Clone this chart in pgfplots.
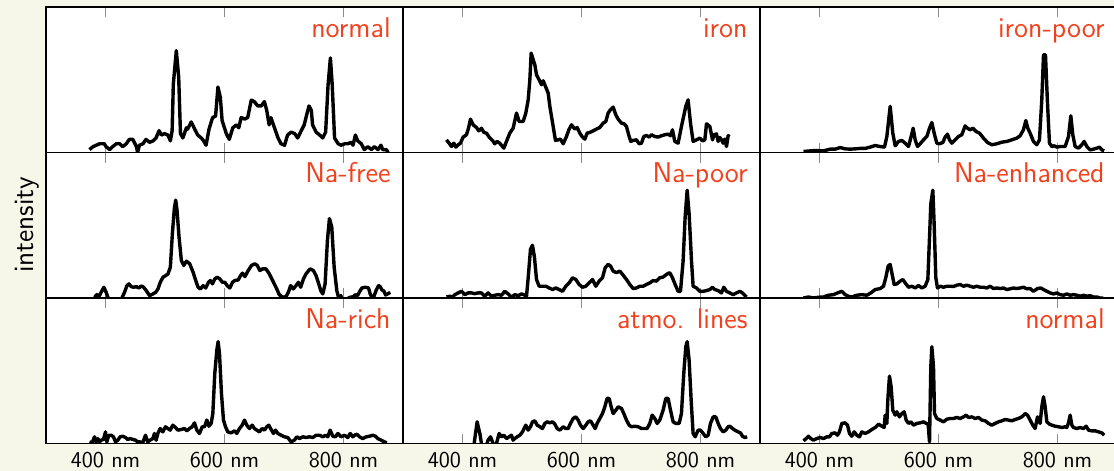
\documentclass[border=0pt]{standalone}
\usepackage{fontspec}
\usepackage{pgfplots}
\pgfplotsset{compat=1.18}
\renewcommand{\familydefault}{\sfdefault}
\definecolor{bgcol}{RGB}{247,247,233}
\definecolor{titlecol}{RGB}{240,66,30}
\pgfplotsset{
  panel/.style={
    scale only axis, width=178.5pt, height=72.75pt, anchor=north west,
    xmin=300, xmax=900, ymin=0, ymax=100,
    xtick={400,600,800}, xticklabels={}, ytick=\empty,
    tick align=inside, major tick length=5pt,
    tick style={black!45, line width=0.6pt},
    axis line style={black, line width=0.8pt},
    axis background/.style={fill=white},
    clip mode=individual,
  },
  bottompanel/.style={panel,
    xticklabels={400 nm,600 nm,800 nm},
    xticklabel style={font=\fontsize{11.3}{13}\selectfont\sffamily, inner sep=0pt, anchor=north, yshift=-4pt},
  },
  spec/.style={black, line width=1.7pt, line join=round, mark=none},
}
\newcommand{\ptitle}[1]{\node[anchor=base east, text=titlecol, font=\fontsize{14.3}{16}\selectfont\sffamily, inner sep=0pt] at (rel axis cs:1,1) [xshift=-6pt, yshift=-15pt] {#1};}
\begin{document}
\begin{tikzpicture}
\path[use as bounding box, fill=bgcol] (0,0) rectangle (557pt,-235.5pt);
% row 1
\begin{axis}[panel, at={(23pt,-3.5pt)}]
\addplot[spec] coordinates {(373,2)(379,4)(390,6)(398,6)(401,4)(407,2)(412,4)(418,6)(424,6)(429,4)(435,6)(440,9)(446,9)(452,4)(454,0)(457,5)(463,6)(468,9)(474,7)(480,8)(485,10)(490,15)(494,12)(499,13)(505,12)(509,8)(512,15)(514,47)(519,70)(523,52)(526,13)(530,10)(536,17)(538,16)(544,21)(550,16)(555,12)(561,10)(565,8)(569,5)(574,16)(580,24)(585,25)(589,45)(593,38)(596,22)(603,13)(608,9)(614,17)(620,19)(624,17)(628,24)(634,23)(639,24)(645,36)(650,35)(656,32)(662,32)(667,35)(671,29)(675,19)(678,24)(684,17)(690,10)(695,6)(701,5)(706,12)(712,14)(718,13)(723,10)(729,15)(734,19)(737,24)(742,32)(746,29)(748,19)(754,14)(760,12)(765,10)(770,14)(774,46)(778,65)(781,47)(785,10)(791,6)(796,5)(802,6)(807,6)(813,7)(816,5)(820,12)(824,8)(830,6)(835,2)(841,4)(847,2)(852,4)(858,2)(863,5)(866,2)(872,2)(875,0)};
\ptitle{normal}
\end{axis}
\begin{axis}[panel, at={(201.5pt,-3.5pt)}]
\addplot[spec] coordinates {(373.1,8.7)(377.6,6.4)(381.5,4.1)(385.4,6.4)(388.8,3.7)(392.7,5.3)(396.6,6.4)(401.1,10.6)(406.7,12.2)(410.1,16.7)(413.4,22.9)(417.9,19.0)(423.5,17.2)(427.4,14.9)(431.9,16.7)(435.9,13.8)(440.3,13.3)(444.8,10.6)(450.4,8.3)(454.3,6.0)(458.3,7.6)(462.7,6.4)(469.5,3.0)(473.9,7.6)(479.5,13.3)(485.1,16.7)(490.8,27.1)(495.2,21.3)(502.0,21.3)(506.4,27.1)(510.4,36.2)(513.2,50.0)(515.4,68.3)(518.8,63.8)(521.6,60.3)(524.4,53.4)(528.8,50.0)(532.8,46.6)(535.6,49.3)(539.5,45.4)(544.0,40.8)(546.8,31.7)(552.4,17.9)(556.3,8.3)(560.8,8.7)(564.7,9.2)(569.2,6.0)(574.8,11.0)(578.7,15.6)(583.2,19.0)(588.8,16.1)(592.7,17.2)(597.2,13.3)(601.7,10.6)(605.6,9.2)(609.5,13.3)(614.0,13.8)(619.6,14.9)(625.2,16.1)(630.8,17.2)(636.4,20.2)(640.9,21.3)(644.8,27.1)(648.7,29.4)(653.2,31.2)(657.7,25.9)(661.6,22.9)(667.2,20.2)(671.7,19.7)(675.6,17.9)(680.1,11.0)(682.9,7.6)(686.8,8.3)(692.4,8.7)(696.9,6.0)(700.8,6.4)(704.7,11.0)(709.2,11.7)(713.7,10.6)(717.6,12.2)(723.2,11.0)(728.8,10.6)(734.4,11.5)(740.0,12.2)(745.6,12.6)(749.6,11.5)(752.9,15.6)(756.8,7.6)(762.4,6.4)(768.0,17.9)(775.3,31.7)(779.2,36.2)(783.2,20.2)(787.6,7.6)(793.3,8.7)(798.9,9.9)(803.3,8.0)(807.3,8.7)(810.1,19.7)(815.7,17.9)(820.2,8.7)(822.9,12.2)(826.9,12.8)(829.7,7.6)(832.5,10.3)(835.3,8.7)(838.1,6.4)(840.9,9.2)(843.7,4.1)(846.5,11.5)(849.3,11.0)};
\ptitle{iron}
\end{axis}
\begin{axis}[panel, at={(380pt,-3.5pt)}]
\addplot[spec] coordinates {(373.1,0.7)(384.3,1.1)(395.5,1.4)(406.7,1.1)(417.9,2.3)(426.3,2.3)(434.7,3.4)(443.1,2.5)(451.5,2.3)(459.9,2.5)(468.3,2.8)(476.7,2.8)(485.1,3.7)(493.6,4.8)(502.0,4.1)(509.2,3.7)(513.2,11.0)(518.8,31.7)(523.2,13.3)(527.2,4.6)(532.8,7.6)(538.4,8.3)(544.0,6.4)(549.6,4.1)(554.1,11.0)(557.4,16.7)(560.8,8.7)(564.7,4.1)(569.2,6.0)(574.8,8.7)(580.4,11.0)(584.9,16.7)(588.8,20.6)(592.7,13.3)(597.2,6.4)(601.7,6.0)(607.3,6.9)(611.2,10.6)(615.1,12.6)(618.5,8.7)(622.4,6.4)(628.0,8.7)(633.6,11.0)(639.2,12.2)(644.8,18.3)(648.7,16.7)(653.2,15.6)(657.7,16.7)(663.3,14.4)(668.9,13.3)(675.6,9.9)(682.3,6.9)(689.6,5.3)(698.0,6.0)(706.4,7.1)(714.8,7.6)(723.2,8.7)(731.6,9.9)(737.2,11.5)(742.8,15.6)(746.8,22.0)(750.1,16.7)(754.0,13.3)(759.6,7.6)(765.2,5.3)(769.7,8.7)(773.6,36.2)(776.5,67.2)(779.8,67.2)(783.2,33.9)(786.5,6.4)(790.5,4.1)(794.4,4.6)(798.9,3.7)(804.5,4.1)(812.9,4.1)(818.5,11.0)(822.4,25.2)(825.7,12.2)(829.7,4.1)(835.3,3.0)(840.9,5.3)(844.8,7.6)(849.3,4.1)(854.9,1.8)(860.5,2.3)(866.1,3.0)(870.6,3.7)(874.5,1.8)(878.4,1.1)};
\ptitle{iron-poor}
\end{axis}
% row 2
\begin{axis}[panel, at={(23pt,-76.25pt)}]
\addplot[spec] coordinates {(381.5,0.5)(385.4,2.3)(388.8,0.9)(392.7,3.9)(397.2,7.4)(401.1,3.9)(404.5,0)(406.7,-5)(427.0,-5)(428.1,0.5)(432.0,3.9)(436.0,8.5)(439.3,9.7)(443.3,7.8)(447.2,7.4)(451.7,7.8)(456.2,6.9)(460.1,8.3)(464.0,7.4)(468.5,5.1)(474.2,1.6)(479.8,2.8)(484.3,3.9)(488.2,6.2)(492.1,10.8)(496.6,14.3)(501.1,15.4)(505.1,16.6)(509.0,21.2)(512.4,44.2)(515.7,61.5)(518.0,67.3)(520.2,60.4)(523.6,41.9)(527.5,25.8)(531.5,22.4)(536.0,25.3)(541.6,23.5)(547.2,17.7)(551.7,12.0)(555.6,7.4)(559.6,6.2)(564.0,8.5)(568.5,6.9)(573.0,10.8)(576.4,12.0)(579.8,9.7)(583.7,13.1)(587.6,14.3)(592.1,13.1)(596.6,10.8)(600.6,10.8)(604.5,8.5)(609.0,6.9)(613.5,10.8)(617.4,12.0)(623.0,12.4)(627.0,15.4)(630.3,17.1)(634.3,14.7)(639.9,18.9)(645.5,22.4)(651.1,23.5)(655.1,22.4)(659.5,18.9)(664.0,20.0)(669.7,20.0)(675.3,16.6)(680.9,12.0)(686.5,7.4)(692.1,2.3)(697.8,0.5)(703.4,0.9)(707.3,3.9)(711.2,8.5)(715.7,6.2)(720.2,8.5)(724.2,10.8)(728.1,7.4)(732.6,13.1)(737.1,16.6)(743.8,20.0)(749.4,18.9)(753.9,15.4)(758.4,9.7)(761.8,5.1)(765.2,2.8)(769.1,9.7)(773.0,39.6)(776.4,54.6)(780.3,48.8)(784.3,21.2)(788.8,5.1)(791.6,0.5)(795.5,1.6)(797.8,-1.8)(801.1,-3)(805.6,-0.7)(811.2,0.5)(816.9,0.9)(819.7,2.3)(823.6,1.6)(828.1,5.1)(830.9,6.9)(836.5,7.4)(842.1,6.9)(844.9,2.8)(847.7,0.5)(850.6,0.5)(855.1,5.5)(859.0,8.5)(861.8,7.8)(864.6,5.5)(867.4,5.1)(870.8,2.1)(874.2,2.8)(878.6,3.9)};
\ptitle{Na-free}
\end{axis}
\begin{axis}[panel, at={(201.5pt,-76.25pt)}]
\addplot[spec] coordinates {(373.1,0.7)(378.7,1.2)(383.2,0.7)(387.1,2.3)(392.7,3.5)(398.3,4.6)(403.9,2.3)(409.5,3.5)(415.1,3.5)(420.7,3.0)(426.3,3.5)(431.9,3.5)(437.5,1.2)(443.1,3.5)(448.7,1.2)(454.3,1.9)(459.9,2.3)(465.5,1.9)(471.1,4.6)(476.7,2.8)(482.3,0.5)(487.9,2.3)(493.6,1.6)(499.2,2.8)(504.8,1.9)(507.6,1.2)(510.4,13.9)(514.3,33.6)(517.6,36.3)(521.0,27.8)(524.4,12.7)(528.8,8.1)(534.4,8.1)(540.0,8.1)(545.7,6.9)(551.3,5.8)(556.9,6.9)(562.5,5.8)(568.1,4.6)(573.7,8.1)(579.3,10.4)(584.9,13.9)(590.5,12.7)(596.1,9.3)(601.7,7.4)(607.3,8.1)(612.9,10.4)(618.5,12.7)(624.1,8.1)(629.7,11.6)(635.3,13.9)(639.8,20.8)(644.8,23.1)(648.7,22.0)(653.2,18.5)(658.8,17.4)(664.4,18.5)(670.0,15.7)(675.6,12.7)(681.2,9.3)(686.8,6.5)(692.4,6.9)(698.0,8.1)(703.6,8.1)(709.2,9.3)(714.8,10.4)(720.4,12.0)(726.0,11.6)(731.6,13.9)(737.2,14.4)(742.8,16.2)(748.4,17.4)(752.9,13.9)(757.4,9.3)(762.4,4.6)(766.4,4.6)(770.8,25.5)(774.2,55.6)(777.6,74.1)(780.9,57.9)(784.9,25.5)(787.6,8.1)(793.3,6.9)(798.9,4.6)(804.5,4.6)(810.1,5.1)(815.7,5.8)(820.2,7.4)(824.1,5.8)(829.7,5.1)(835.3,3.5)(839.2,7.4)(843.7,4.6)(849.3,3.5)(854.9,2.3)(860.5,3.5)(866.1,4.6)(870.6,3.5)(874.5,1.9)(877.3,0.7)};
\ptitle{Na-poor}
\end{axis}
\begin{axis}[panel, at={(380pt,-76.25pt)}]
\addplot[spec] coordinates {(373.1,0)(381.5,0.7)(389.9,0)(398.3,0.5)(406.7,0.7)(415.1,1.9)(423.5,2.3)(430.3,3.5)(437.5,4.6)(443.1,2.3)(448.7,1.2)(454.3,0.7)(462.7,1.9)(471.1,2.3)(479.5,1.9)(486.3,3.5)(493.6,5.8)(502.0,6.5)(507.6,8.1)(512.0,15.0)(515.4,22.0)(518.8,23.1)(522.1,16.2)(525.5,9.3)(530.0,9.7)(535.6,11.6)(540.1,12.7)(544.0,10.4)(549.6,7.4)(555.2,8.1)(560.8,6.9)(566.4,8.6)(572.0,6.9)(577.6,8.1)(582.1,12.7)(584.9,41.7)(587.1,64.8)(590.5,74.1)(592.7,50.9)(595.5,13.9)(598.3,6.9)(602.8,8.1)(608.4,7.4)(614.0,8.1)(619.6,8.1)(625.2,7.9)(630.8,8.8)(636.4,9.3)(642.0,8.1)(647.6,8.8)(653.2,8.1)(658.8,7.4)(664.4,8.1)(670.0,7.4)(675.6,7.4)(681.2,6.9)(686.8,8.1)(692.4,6.5)(698.0,6.9)(703.6,6.5)(709.2,6.9)(714.8,5.8)(720.4,6.3)(726.0,6.9)(731.6,6.5)(737.2,6.9)(742.8,7.4)(748.4,6.3)(754.0,6.5)(759.6,4.6)(766.4,6.5)(772.0,6.9)(776.5,5.8)(782.1,4.6)(787.7,3.5)(793.3,2.8)(798.9,3.5)(804.5,2.3)(810.1,1.9)(815.7,2.8)(821.3,1.9)(826.9,2.3)(832.5,1.9)(838.1,1.2)(843.7,1.9)(849.3,1.2)(854.9,1.6)(860.5,0.7)(866.1,0.7)(871.7,0)(877.3,0)};
\ptitle{Na-enhanced}
\end{axis}
% row 3
\begin{axis}[bottompanel, at={(23pt,-149pt)}]
\addplot[spec] coordinates {(373.1,1.1)(377.6,0.5)(381.5,4.6)(384.3,1.1)(387.1,3.4)(389.9,1.1)(392.7,2.3)(396.6,2.8)(400.0,8.0)(402.2,1.1)(405.6,5.7)(409.5,5.7)(413.4,4.6)(416.8,1.1)(420.7,2.3)(424.6,4.6)(429.1,5.0)(433.6,4.1)(437.5,2.8)(441.5,3.4)(445.9,2.8)(450.4,2.3)(454.3,1.1)(458.3,1.1)(462.7,0.5)(467.2,5.7)(471.1,1.1)(475.1,2.3)(479.5,3.4)(482.3,6.9)(485.1,2.3)(488.0,6.9)(491.9,10.3)(496.4,8.0)(500.8,11.5)(504.8,10.3)(508.7,9.2)(513.2,12.6)(517.6,11.0)(521.6,9.2)(527.2,9.6)(532.8,10.3)(536.7,8.7)(541.2,10.3)(545.7,11.5)(549.6,14.2)(553.5,9.2)(558.0,6.9)(562.5,11.5)(566.4,11.5)(570.3,16.1)(573.7,11.9)(577.6,13.8)(580.4,20.6)(583.7,48.2)(587.1,64.2)(589.3,70.0)(591.6,61.9)(594.9,34.4)(598.3,16.1)(601.7,11.5)(605.6,8.0)(611.2,7.3)(616.8,8.7)(620.7,6.9)(625.2,10.3)(629.7,12.6)(633.6,16.1)(637.5,12.6)(642.0,10.3)(646.5,12.6)(650.4,10.3)(654.3,9.2)(658.8,8.0)(663.3,10.3)(667.2,9.2)(671.1,11.5)(674.5,12.6)(678.4,9.6)(682.3,6.9)(685.7,9.2)(689.6,6.9)(695.2,5.7)(700.8,4.6)(706.4,4.1)(712.0,1.1)(717.6,2.3)(721.5,4.6)(726.0,3.4)(731.6,4.6)(737.2,4.1)(742.8,4.6)(748.4,4.1)(754.0,5.7)(759.6,5.7)(765.2,4.6)(769.7,5.7)(773.6,4.6)(777.6,9.2)(782.1,5.0)(786.5,4.6)(790.5,6.9)(796.1,4.6)(801.7,5.7)(807.3,4.1)(811.2,6.9)(815.7,4.6)(818.5,5.7)(822.4,6.4)(826.9,4.6)(832.5,3.4)(838.1,4.6)(843.7,5.0)(849.3,5.7)(853.8,5.0)(857.7,3.4)(863.3,2.3)(868.9,1.1)(872.8,0.5)};
\ptitle{Na-rich}
\end{axis}
\begin{axis}[bottompanel, at={(201.5pt,-149pt)}]
\addplot[spec] coordinates {(417.9,-5)(424.6,14.9)(429.1,6.9)(431.9,0)(434.7,-4.6)(439.2,-2.3)(443.1,2.3)(447.1,4.6)(450.4,1.1)(453.2,-2.3)(457.1,0)(461.6,6.9)(465.5,4.6)(469.5,5.7)(473.9,3.4)(478.4,4.6)(482.3,5.7)(485.1,2.3)(487.9,3.4)(491.9,4.6)(496.4,5.7)(500.8,8.0)(506.4,12.6)(510.4,9.2)(514.3,11.5)(517.6,14.9)(521.6,15.6)(525.5,12.6)(530.0,11.5)(534.4,10.3)(538.4,13.8)(542.3,14.9)(546.8,14.2)(551.3,14.9)(555.2,13.3)(559.1,10.3)(563.6,9.2)(569.2,11.5)(573.7,10.3)(577.6,10.3)(581.5,13.8)(586.0,17.2)(590.5,18.3)(594.4,16.1)(598.3,12.6)(602.8,10.3)(607.3,12.6)(611.2,14.9)(615.1,15.6)(619.6,12.6)(623.0,10.3)(626.3,13.8)(630.8,17.2)(635.3,20.6)(639.2,25.2)(643.1,31.0)(646.5,31.0)(649.9,25.2)(653.2,20.6)(657.7,22.9)(661.6,25.2)(667.2,24.1)(671.1,20.6)(675.6,16.1)(680.1,12.6)(684.0,11.5)(689.6,11.9)(695.2,11.5)(700.8,10.3)(706.4,10.3)(710.4,10.3)(714.8,13.8)(718.8,19.5)(723.2,17.2)(727.2,13.8)(731.6,16.1)(737.2,22.9)(741.7,31.0)(745.6,31.0)(749.6,22.9)(754.0,14.9)(758.5,13.8)(764.1,13.8)(768.0,20.6)(771.9,48.2)(775.3,66.5)(777.6,70.0)(780.9,57.3)(784.3,29.8)(787.6,6.9)(791.0,4.6)(796.1,9.2)(800.0,9.2)(804.5,6.9)(808.9,4.6)(812.9,5.7)(816.8,13.8)(821.3,18.3)(825.7,18.3)(829.7,13.8)(833.6,10.3)(838.1,8.0)(842.5,9.2)(846.5,11.5)(849.3,11.9)(853.8,10.3)(857.7,9.2)(863.3,8.0)(867.2,7.3)(870.6,5.0)(874.5,4.1)(878.4,4.6)};
\ptitle{atmo. lines}
\end{axis}
\begin{axis}[bottompanel, at={(380pt,-149pt)}]
\addplot[spec] coordinates {(373.1,1.8)(377.6,3.4)(381.5,5.0)(385.4,3.4)(389.9,2.3)(395.5,3.4)(401.1,4.1)(406.7,3.4)(412.3,4.6)(416.8,4.6)(420.7,6.9)(426.3,7.3)(430.3,5.7)(433.6,8.0)(437.5,13.8)(443.1,14.2)(447.1,12.6)(450.4,6.9)(454.3,5.0)(458.3,8.0)(462.7,5.7)(467.2,4.6)(471.1,8.0)(476.7,6.9)(482.3,8.0)(487.9,9.6)(493.6,11.0)(499.2,13.3)(504.8,11.9)(508.7,11.0)(510.4,19.5)(513.2,13.8)(514.8,29.8)(517.6,46.3)(520.4,39.0)(523.2,22.9)(527.2,19.5)(530.0,21.8)(534.4,18.3)(538.4,20.6)(542.3,21.8)(545.7,16.1)(549.6,13.8)(553.5,14.9)(558.0,12.6)(563.6,13.8)(569.2,14.2)(574.8,14.9)(579.3,13.8)(582.6,13.3)(584.9,1.1)(587.1,52.8)(588.8,66.5)(591.6,52.8)(593.3,20.6)(597.2,17.2)(602.8,16.1)(608.4,14.9)(614.0,16.7)(619.6,17.2)(625.2,17.2)(630.8,17.9)(636.4,17.2)(642.0,18.3)(646.5,19.5)(650.4,17.9)(656.0,18.3)(661.6,17.2)(667.2,17.9)(672.8,16.1)(678.4,15.6)(684.0,13.8)(689.6,12.6)(695.2,13.8)(700.8,14.9)(706.4,15.6)(712.0,16.5)(717.6,16.1)(723.2,15.6)(728.8,16.5)(734.4,17.2)(740.0,18.3)(745.6,20.6)(749.6,19.5)(754.0,16.1)(758.5,12.6)(762.4,10.3)(766.4,18.3)(770.8,13.8)(773.6,25.2)(776.5,32.1)(779.3,25.2)(782.1,14.9)(786.5,13.3)(790.5,12.6)(796.1,11.9)(801.7,11.5)(807.3,11.0)(812.9,11.5)(815.7,11.0)(818.5,14.2)(821.3,19.5)(824.1,12.6)(826.9,11.0)(832.5,10.3)(838.1,11.0)(843.7,10.3)(848.2,11.9)(852.1,9.2)(857.7,8.7)(863.3,8.7)(868.9,8.0)(874.5,7.3)(878.4,5.7)};
\ptitle{normal}
\end{axis}
\node[rotate=90, font=\fontsize{14}{16}\selectfont\sffamily, anchor=base] at (16.5pt,-112.5pt) {intensity};
\end{tikzpicture}
\end{document}
